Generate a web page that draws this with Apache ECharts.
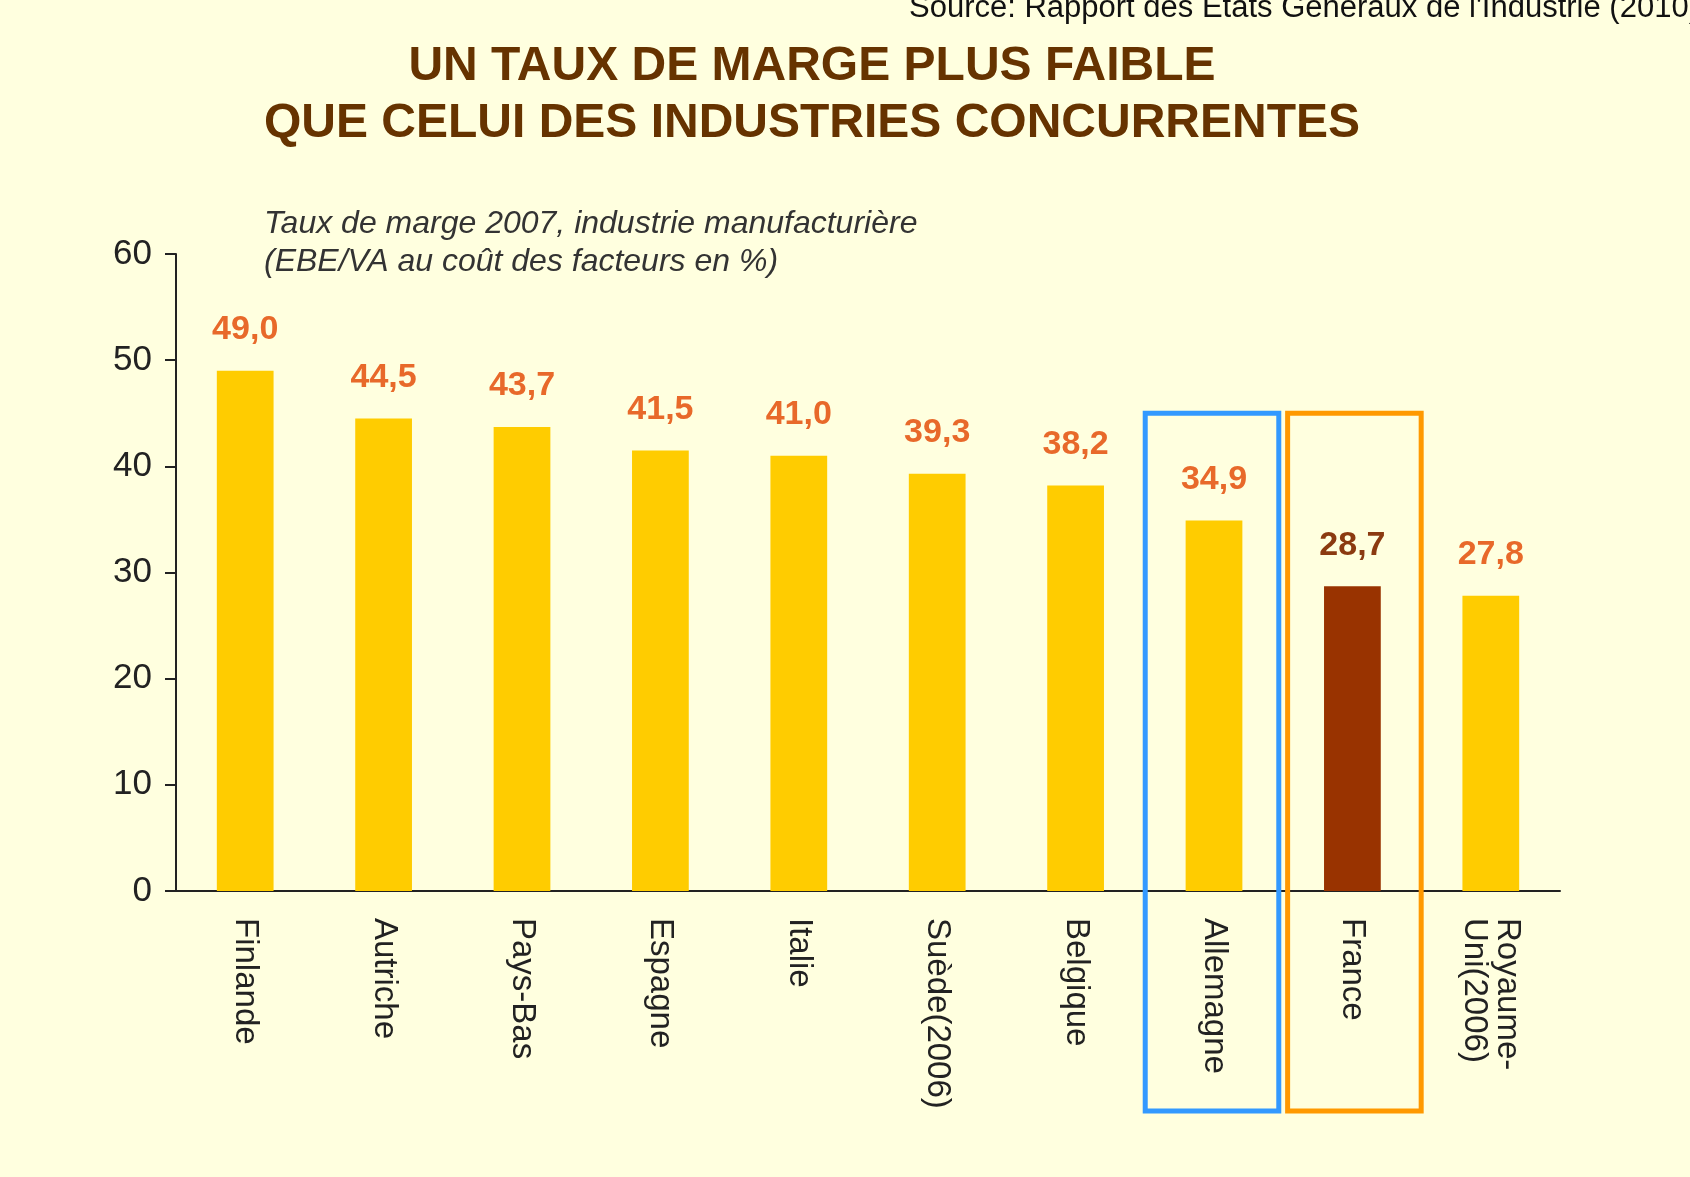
<!DOCTYPE html>
<html>
<head>
<meta charset="utf-8">
<script src="https://cdn.jsdelivr.net/npm/echarts@6/dist/echarts.min.js"></script>
<style>
  html, body { margin: 0; padding: 0; background: #ffffdf; }
  #chart { width: 1690px; height: 1177px; }
</style>
</head>
<body>
<div id="chart"></div>
<script>
const categories = ['Finlande', 'Autriche', 'Pays-Bas', 'Espagne', 'Italie', 'Suède(2006)', 'Belgique', 'Allemagne', 'France', 'Royaume-\nUni(2006)']
const values = [49.0, 44.5, 43.7, 41.5, 41.0, 39.3, 38.2, 34.9, 28.7, 27.8]
const yTicks = { min: 0, max: 60, interval: 10 }
const highlight = 'France'
const boxed = [{ name: 'Allemagne', color: '#3399ff' }, { name: 'France', color: '#ff9900' }]
const boxTopValue = 45

const font = 'Liberation Sans, Arial, sans-serif'
const chart = echarts.init(document.getElementById('chart'))

chart.setOption({
  backgroundColor: '#ffffdf',
  animation: false,
  title: [
    {
      text: 'UN TAUX DE MARGE PLUS FAIBLE\nQUE CELUI DES INDUSTRIES CONCURRENTES',
      left: 812, top: 38, textAlign: 'center', padding: 0,
      textStyle: { fontFamily: font, fontSize: 48, fontWeight: 'bold', color: '#663300', lineHeight: 57 }
    },
    {
      text: 'Taux de marge 2007, industrie manufacturière\n(EBE/VA au coût des facteurs en %)',
      left: 264, top: 205, padding: 0,
      textStyle: { fontFamily: font, fontSize: 32, fontStyle: 'italic', fontWeight: 'normal', color: '#333', lineHeight: 38 }
    },
    {
      text: "Source: Rapport des États Généraux de l'Industrie (2010)",
      left: 909, top: -7, padding: 0,
      textStyle: { fontFamily: font, fontSize: 31, fontWeight: 'normal', color: '#111', lineHeight: 31 }
    }
  ],
  grid: { left: 176, right: 130, top: 254, bottom: 286 },
  xAxis: {
    type: 'category',
    data: categories,
    axisLine: { lineStyle: { color: '#222', width: 2 } },
    axisTick: { length: 10, lineStyle: { color: '#222', width: 2 } },
    axisLabel: { rotate: -90, margin: 27, fontFamily: font, fontSize: 33, color: '#222', lineHeight: 33 }
  },
  yAxis: {
    type: 'value',
    min: yTicks.min, max: yTicks.max, interval: yTicks.interval,
    splitLine: { show: false },
    axisLine: { show: true, lineStyle: { color: '#222', width: 2 } },
    axisTick: { show: true, length: 11, lineStyle: { color: '#222', width: 2 } },
    axisLabel: { margin: 24, fontFamily: font, fontSize: 35, color: '#222' }
  },
  series: [{
    type: 'bar',
    barWidth: '41%',
    itemStyle: {
      color: (p) => (p.name === highlight ? '#993300' : '#ffcc00')
    },
    label: {
      show: true,
      position: 'top',
      distance: 24,
      fontFamily: font,
      fontSize: 34,
      fontWeight: 'bold',
      formatter: (p) => p.value.toFixed(1).replace('.', ','),
      color: '#e8692a'
    },
    data: values.map((v, i) => ({
      value: v,
      label: categories[i] === highlight ? { color: '#8b3a10' } : undefined
    }))
  }]
})

// outlined boxes around highlighted countries, placed from the axis scales
function drawBoxes() {
  const c0 = chart.convertToPixel({ xAxisIndex: 0 }, 0)
  const c1 = chart.convertToPixel({ xAxisIndex: 0 }, 1)
  const band = c1 - c0
  const yTop = chart.convertToPixel({ yAxisIndex: 0 }, boxTopValue)
  const yZero = chart.convertToPixel({ yAxisIndex: 0 }, 0)
  const yBottom = yZero + 220
  const w = band * 0.965
  chart.setOption({
    graphic: boxed.map((b, k) => {
      const cx = chart.convertToPixel({ xAxisIndex: 0 }, categories.indexOf(b.name)) + (k === 0 ? -2 : 2)
      return {
        type: 'rect',
        shape: { x: cx - w / 2, y: yTop, width: w, height: yBottom - yTop },
        style: { fill: 'none', stroke: b.color, lineWidth: 5 },
        z: 100
      }
    })
  })
}
drawBoxes()
</script>
</body>
</html>
